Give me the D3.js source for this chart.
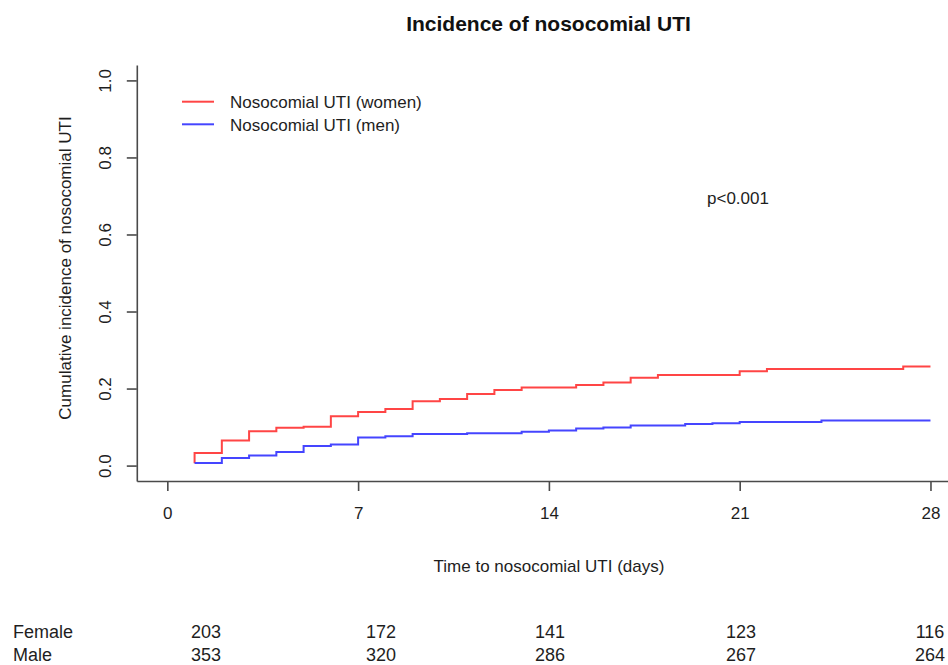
<!DOCTYPE html>
<html>
<head>
<meta charset="utf-8">
<script src="https://cdn.jsdelivr.net/npm/d3@7"></script>
<style>
  html, body { margin: 0; padding: 0; background: #fff; }
  svg { display: block; font-family: "Liberation Sans", Arial, Helvetica, sans-serif; }
</style>
</head>
<body>
<svg id="chart" width="948" height="665"></svg>
<script>
// ---------------- data ----------------
const womenTimes  = [1, 1, 2, 3, 4, 5, 6, 7, 8, 9, 10, 11, 12, 13, 15, 16, 17, 18, 21, 22, 27, 28];
const womenValues = [0.006, 0.033, 0.065, 0.089, 0.098, 0.101, 0.128, 0.139, 0.147, 0.167, 0.173, 0.186, 0.196, 0.203, 0.209, 0.216, 0.228, 0.235, 0.245, 0.251, 0.257, 0.257];
const menTimes    = [1, 2, 3, 4, 5, 6, 7, 8, 9, 11, 13, 14, 15, 16, 17, 19, 20, 21, 24, 28];
const menValues   = [0.0065, 0.0195, 0.026, 0.035, 0.051, 0.055, 0.073, 0.076, 0.082, 0.084, 0.088, 0.091, 0.096, 0.099, 0.104, 0.108, 0.110, 0.113, 0.117, 0.117];
const seriesNames = ["Nosocomial UTI (women)", "Nosocomial UTI (men)"];
const xTicks = [0, 7, 14, 21, 28];
const yTicks = [0, 0.2, 0.4, 0.6, 0.8, 1.0];
const riskGroups = ["Female", "Male"];
const riskFemale = [203, 172, 141, 123, 116];
const riskMale   = [353, 320, 286, 267, 264];
const titleText = "Incidence of nosocomial UTI";
const xTitle = "Time to nosocomial UTI (days)";
const yTitle = "Cumulative incidence of nosocomial UTI";
const pText = "p<0.001";

// ---------------- layout ----------------
const svg = d3.select("#chart");
const colors = ["#ff4545", "#4545ff"];
const axisColor = "#4a4a4a";
const textColor = "#1e1e1e";

const x = d3.scaleLinear().domain([-1.12, 29.12]).range([136.8, 961]);
const y = d3.scaleLinear().domain([-0.04, 1.04]).range([481, 65]);

// title
svg.append("text")
  .attr("x", 548.5).attr("y", 30.5)
  .attr("text-anchor", "middle")
  .attr("font-size", 21).attr("font-weight", "bold")
  .attr("fill", "#111")
  .text(titleText);

// x axis
const gx = svg.append("g")
  .attr("transform", `translate(0,${y.range()[0]})`)
  .call(d3.axisBottom(x).tickValues(xTicks).tickFormat(d3.format("d"))
        .tickSize(10).tickSizeOuter(0).tickPadding(15.7));
gx.select(".domain").attr("stroke", axisColor).attr("stroke-width", 1.6);
gx.selectAll(".tick line").attr("stroke", axisColor).attr("stroke-width", 1.6);
gx.selectAll(".tick text").attr("font-size", 17).attr("fill", textColor)
  .attr("font-family", "Liberation Sans, Arial, sans-serif");

// y axis
const gy = svg.append("g")
  .attr("transform", `translate(${x.range()[0]},0)`)
  .call(d3.axisLeft(y).tickValues(yTicks).tickFormat(d3.format(".1f"))
        .tickSize(10).tickSizeOuter(0));
gy.select(".domain").attr("stroke", axisColor).attr("stroke-width", 1.6);
gy.selectAll(".tick line").attr("stroke", axisColor).attr("stroke-width", 1.6);
gy.selectAll(".tick text")
  .attr("x", null).attr("dy", null)
  .attr("text-anchor", "middle")
  .attr("transform", "translate(-26,0) rotate(-90)")
  .attr("font-size", 17).attr("fill", textColor)
  .attr("font-family", "Liberation Sans, Arial, sans-serif");

// axis titles
svg.append("text")
  .attr("x", 549).attr("y", 572)
  .attr("text-anchor", "middle")
  .attr("font-size", 17).attr("fill", textColor)
  .text(xTitle);

svg.append("text")
  .attr("transform", "translate(71,268) rotate(-90)")
  .attr("text-anchor", "middle")
  .attr("font-size", 17).attr("fill", textColor)
  .text(yTitle);

// curves
const line = d3.line()
  .x(d => x(d[0])).y(d => y(d[1]))
  .curve(d3.curveStepAfter);

const series = [
  d3.zip(womenTimes, womenValues),
  d3.zip(menTimes, menValues)
];

svg.append("g").selectAll("path")
  .data(series)
  .join("path")
  .attr("d", line)
  .attr("fill", "none")
  .attr("stroke", (d, i) => colors[i])
  .attr("stroke-width", 2);

// legend
const legend = svg.append("g").attr("transform", "translate(182,101.7)");
seriesNames.forEach((name, i) => {
  const g = legend.append("g").attr("transform", `translate(0,${i * 22.6})`);
  g.append("line").attr("x1", 0).attr("x2", 32).attr("y1", 0).attr("y2", 0)
    .attr("stroke", colors[i]).attr("stroke-width", 2);
  g.append("text").attr("x", 48).attr("y", 6.5)
    .attr("font-size", 17).attr("fill", textColor).text(name);
});

// p value
svg.append("text")
  .attr("x", 707).attr("y", 203.5)
  .attr("font-size", 17).attr("fill", textColor)
  .text(pText);

// risk table
const riskCols = [206, 381, 550, 741, 930];
const riskRows = [riskFemale, riskMale];
const rowY = [637.5, 660.5];
riskGroups.forEach((grp, r) => {
  svg.append("text").attr("x", 13).attr("y", rowY[r])
    .attr("font-size", 18).attr("fill", textColor).text(grp);
  riskRows[r].forEach((v, c) => {
    svg.append("text").attr("x", riskCols[c]).attr("y", rowY[r])
      .attr("text-anchor", "middle")
      .attr("font-size", 18).attr("fill", textColor).text(v);
  });
});
</script>
</body>
</html>
